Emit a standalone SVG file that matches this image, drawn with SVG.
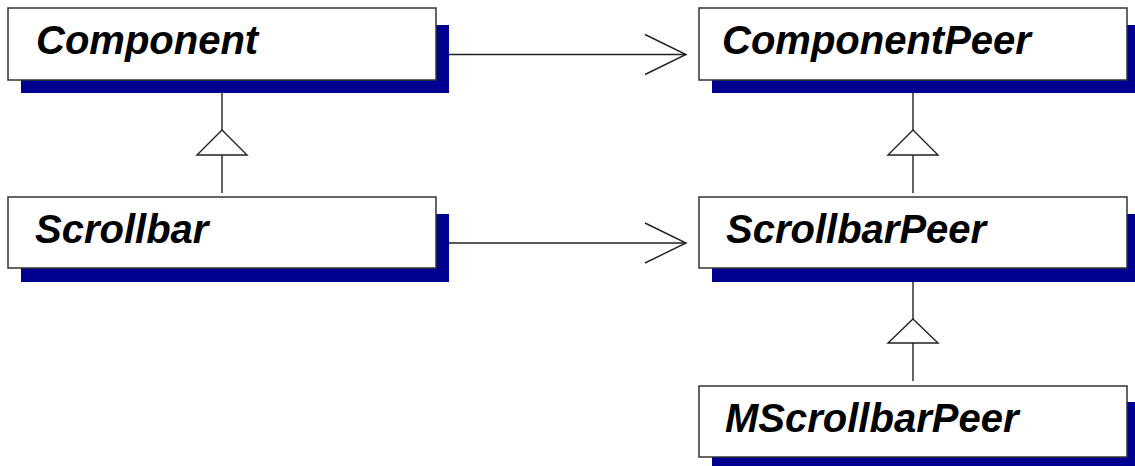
<svg xmlns="http://www.w3.org/2000/svg" width="1135" height="466" viewBox="0 0 1135 466">
<style>
.sh{fill:#000090;stroke:none}
.bx{fill:#fff;stroke:#333;stroke-width:1.5}
.lb{font-family:"Liberation Sans",Arial,sans-serif;font-weight:bold;font-style:italic;font-size:40px;fill:#000}
.ln{fill:none;stroke:#222;stroke-width:1.4}
.tri{fill:#fff;stroke:#222;stroke-width:1.4}
</style>
<rect width="1135" height="466" fill="#fff"/>
<g id="connectors">
<line class="ln" x1="449" y1="54.5" x2="686" y2="54.5"/>
<polyline class="ln" points="645,34.5 686,54.5 645,74.5"/>
<line class="ln" x1="449" y1="243" x2="686" y2="243"/>
<polyline class="ln" points="645,223 686,243 645,263"/>
<line class="ln" x1="222" y1="93" x2="222" y2="130"/>
<line class="ln" x1="222" y1="155" x2="222" y2="193"/>
<polygon class="tri" points="222,130 247,155 197,155"/>
<line class="ln" x1="913" y1="93" x2="913" y2="130"/>
<line class="ln" x1="913" y1="155" x2="913" y2="193"/>
<polygon class="tri" points="913,130 938,155 888,155"/>
<line class="ln" x1="913" y1="282" x2="913" y2="319"/>
<line class="ln" x1="913" y1="343" x2="913" y2="381"/>
<polygon class="tri" points="913,319 938,343 888,343"/>
</g>
<g id="Component">
<rect class="sh" x="21" y="25" width="428" height="68"/>
<rect class="bx" x="8" y="8" width="428" height="72"/>
<text class="lb" x="36" y="54">Component</text>
</g>
<g id="Scrollbar">
<rect class="sh" x="21" y="214" width="428" height="68"/>
<rect class="bx" x="8" y="197" width="428" height="71"/>
<text class="lb" x="35" y="243">Scrollbar</text>
</g>
<g id="ComponentPeer">
<rect class="sh" x="712" y="25" width="428" height="68"/>
<rect class="bx" x="699" y="8" width="428" height="72"/>
<text class="lb" x="722" y="54">ComponentPeer</text>
</g>
<g id="ScrollbarPeer">
<rect class="sh" x="712" y="214" width="428" height="68"/>
<rect class="bx" x="699" y="197" width="428" height="71"/>
<text class="lb" x="726" y="243">ScrollbarPeer</text>
</g>
<g id="MScrollbarPeer">
<rect class="sh" x="712" y="402" width="428" height="68"/>
<rect class="bx" x="699" y="386" width="428" height="71"/>
<text class="lb" x="725" y="432">MScrollbarPeer</text>
</g>
</svg>
